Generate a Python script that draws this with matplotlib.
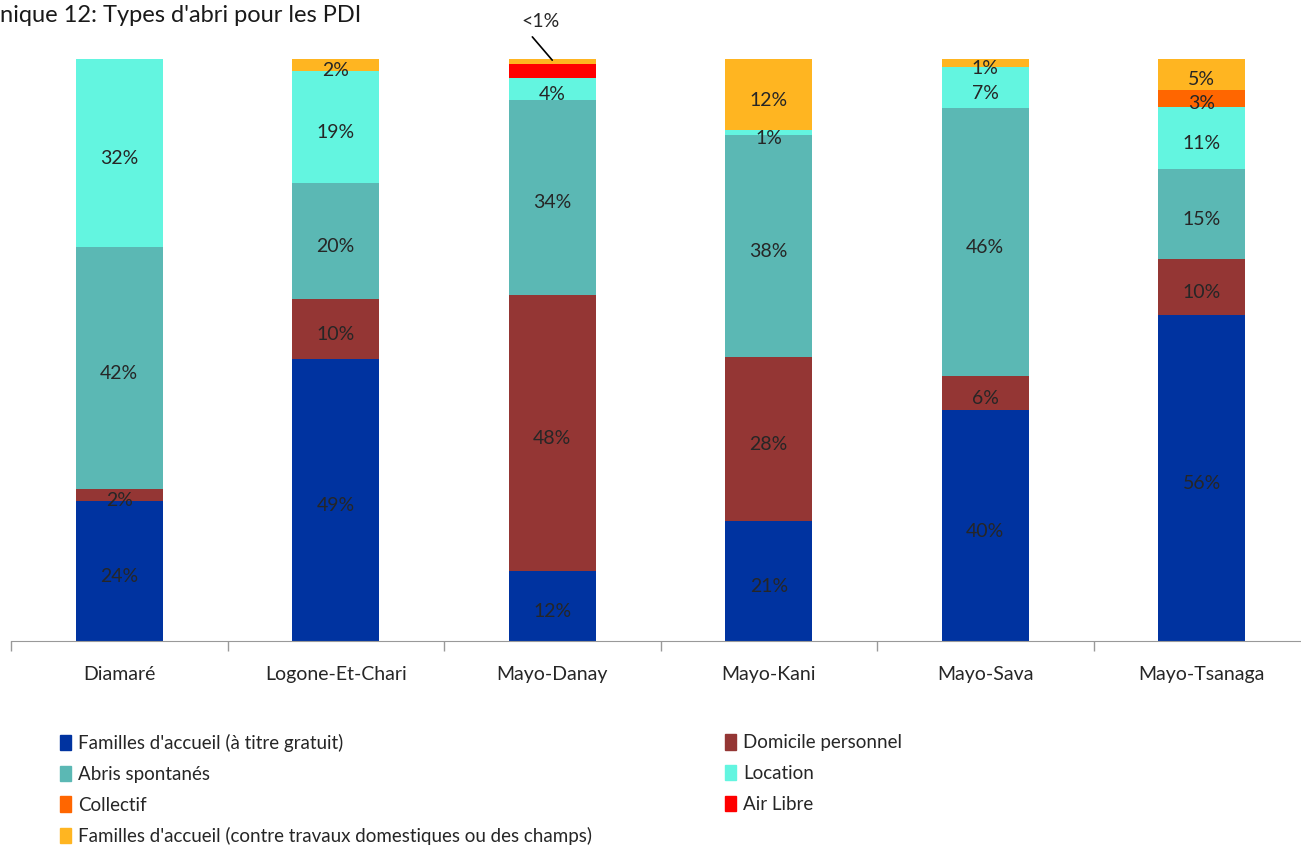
import matplotlib
matplotlib.use("Agg")
import matplotlib.pyplot as plt
from matplotlib.patches import Patch
import numpy as np

plt.rcParams['font.family'] = ['Lato', 'DejaVu Sans']

districts = ["Diamaré", "Logone-Et-Chari", "Mayo-Danay", "Mayo-Kani", "Mayo-Sava", "Mayo-Tsanaga"]
series = ["Familles d'accueil (à titre gratuit)", "Domicile personnel", "Abris spontanés",
          "Location", "Collectif", "Air Libre",
          "Familles d'accueil (contre travaux domestiques ou des champs)"]
colors = ["#0033A0", "#943634", "#5BB8B4", "#63F5E0", "#FF6600", "#FF0000", "#FFB521"]

# percent per district, in stacking order (bottom -> top)
familles_gratuit = [24.1, 48.6, 12.0, 20.6, 39.5, 56.0]
domicile = [2.0, 10.3, 47.5, 28.2, 5.8, 9.6]
abris = [41.6, 19.9, 33.5, 38.1, 45.9, 15.4]
location = [32.3, 19.4, 3.8, 0.9, 7.0, 10.7]
collectif = [0, 0, 0, 0, 0, 2.9]
air_libre = [0, 0, 2.4, 0, 0, 0]
familles_travaux = [0, 2.0, 0.8, 12.2, 1.4, 5.3]

# slices the source chart leaves unlabelled: (series, district)
no_label = [(5, 2), (6, 2)]

data = np.array([familles_gratuit, domicile, abris, location, collectif, air_libre, familles_travaux], dtype=float)
shares = data / data.sum(axis=0) * 100

fig = plt.figure(figsize=(13.01, 8.47), dpi=100)
ax = fig.add_axes([11 / 1301, 1 - 641 / 847, 1299 / 1301, 582 / 847])

x = np.arange(len(districts))
bottom = np.zeros(len(districts))
for i, (name, col) in enumerate(zip(series, colors)):
    ax.bar(x, shares[i], 0.4, bottom=bottom, color=col, label=name)
    for j in range(len(districts)):
        v = data[i, j]
        if v > 0 and (i, j) not in no_label:
            ax.annotate(f"{v:.0f}%", (x[j], bottom[j] + shares[i, j] / 2), xytext=(0, -4),
                        textcoords='offset points', ha='center', va='center',
                        fontsize=14, color='#262626')
    bottom += shares[i]

# the "<1%" callout for the thin top slice of Mayo-Danay
ax.annotate("", xy=(2, 99.8), xytext=(1.908, 103.8), annotation_clip=False,
            arrowprops=dict(arrowstyle='-', color='black', lw=1.2, shrinkA=0, shrinkB=0))
ax.text(1.945, 106.4, "<1%", ha='center', va='center', fontsize=14, color='#262626')

ax.set_xlim(-0.5, len(districts) - 0.5)
ax.set_ylim(0, 100)
ax.set_xticks(x)
ax.set_xticklabels(districts, fontsize=14, color='#262626')
ax.set_xticks(np.arange(-0.5, len(districts)), minor=True)
ax.tick_params(axis='x', which='major', length=0, pad=18)
ax.tick_params(axis='x', which='minor', length=7, color='#999999', width=1)
ax.set_yticks([])
for s in ['top', 'right', 'left']:
    ax.spines[s].set_visible(False)
ax.spines['bottom'].set_color('#999999')

fig.text(0, 1 - 16 / 847, "nique 12: Types d'abri pour les PDI", fontsize=17, va='center', ha='left',
         color='#1a1a1a')

# legend in two columns, filled row by row
left_idx = [0, 2, 4, 6]
right_idx = [1, 3, 5]
for idx, xpos in [(left_idx, 60 / 1301), (right_idx, 725 / 1301)]:
    handles = [Patch(color=colors[k]) for k in idx]
    fig.legend(handles, [series[k] for k in idx], loc='upper left', bbox_to_anchor=(xpos, 1 - 734 / 847),
               frameon=False, fontsize=13.5, handlelength=0.6, handleheight=0.9, handletextpad=0.35,
               labelspacing=0.72, borderpad=0, borderaxespad=0, labelcolor='#262626')

fig.savefig("out.png", dpi=100)
